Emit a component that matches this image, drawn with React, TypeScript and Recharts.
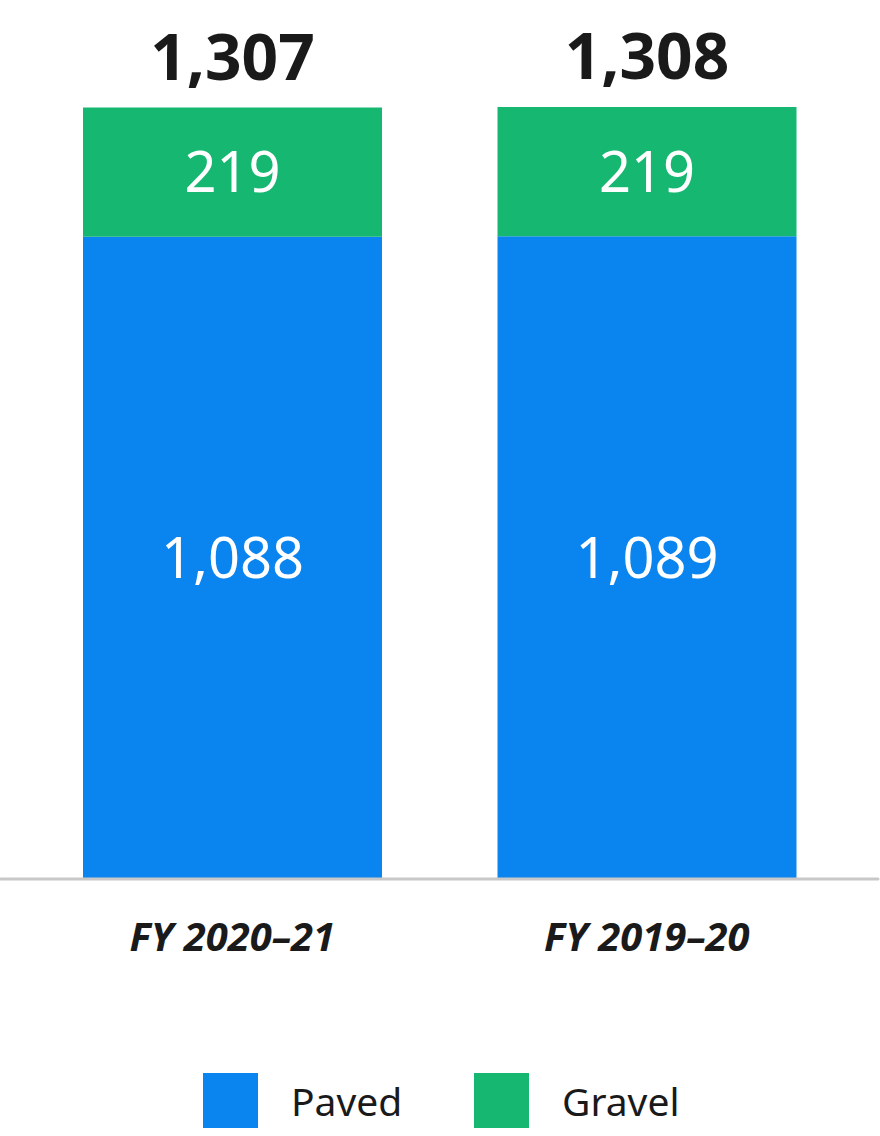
import React from 'react';
import { BarChart, Bar, XAxis, YAxis, LabelList, Legend } from 'recharts';

const years = ['FY 2020–21', 'FY 2019–20'];
const paved = [1088, 1089];
const gravel = [219, 219];

const BLUE = '#0a84ee';
const GREEN = '#16b770';
const INK = '#1a1a1a';
const FONT = '"Noto Sans", "Open Sans", sans-serif';

const data = years.map((year, i) => ({
  year,
  paved: paved[i],
  gravel: gravel[i],
  total: paved[i] + gravel[i],
}));

const fmt = (v: any) => Number(v).toLocaleString('en-US');

const YearTick = (props: any) => {
  const { x, y, payload } = props;
  return (
    <text
      x={x}
      y={y + 64}
      textAnchor="middle"
      fill={INK}
      fontFamily={FONT}
      fontSize={40}
      fontWeight={700}
      fontStyle="italic"
    >
      {payload.value}
    </text>
  );
};

const LegendBox = () => (
  <div style={{ position: 'relative', width: 880, height: 56, fontFamily: FONT }}>
    {[
      { name: 'Paved', color: BLUE, box: 203, text: 291 },
      { name: 'Gravel', color: GREEN, box: 474, text: 562 },
    ].map((it) => (
      <React.Fragment key={it.name}>
        <div style={{ position: 'absolute', left: it.box, top: 0, width: 55, height: 55, background: it.color }} />
        <div
          style={{
            position: 'absolute',
            left: it.text,
            top: 0,
            height: 55,
            lineHeight: '55px',
            fontSize: 39,
            color: INK,
          }}
        >
          {it.name}
        </div>
      </React.Fragment>
    ))}
  </div>
);

export default function App() {
  return (
    <div style={{ position: 'absolute', left: 0, top: 0, width: 880, height: 1136, background: '#fff' }}>
      <BarChart
        width={880}
        height={1136}
        data={data}
        margin={{ top: 107, right: 2, bottom: 227, left: 1 }}
      >
        <XAxis
          dataKey="year"
          padding={{ left: 24, right: 24 }}
          axisLine={{ stroke: '#c8c8c8', strokeWidth: 3, strokeLinecap: 'round' }}
          tickLine={false}
          tick={<YearTick />}
          interval={0}
        />
        <YAxis hide domain={[0, 1308]} />
        <Legend
          layout="horizontal"
          verticalAlign="middle"
          align="center"
          content={<LegendBox />}
          wrapperStyle={{ top: 1073, left: 0, width: 880 }}
        />
        <Bar dataKey="paved" stackId="a" fill={BLUE} barSize={299} isAnimationActive={false}>
          <LabelList
            dataKey="paved"
            position="center"
            formatter={fmt}
            fill="#fff"
            fontFamily={FONT}
            fontSize={56}
          />
        </Bar>
        <Bar dataKey="gravel" stackId="a" fill={GREEN} barSize={299} isAnimationActive={false}>
          <LabelList
            dataKey="gravel"
            position="center"
            formatter={fmt}
            fill="#fff"
            fontFamily={FONT}
            fontSize={56}
          />
          <LabelList
            dataKey="total"
            position="top"
            offset={28}
            formatter={fmt}
            fill={INK}
            fontFamily={FONT}
            fontSize={64}
            fontWeight={700}
          />
        </Bar>
      </BarChart>
    </div>
  );
}
